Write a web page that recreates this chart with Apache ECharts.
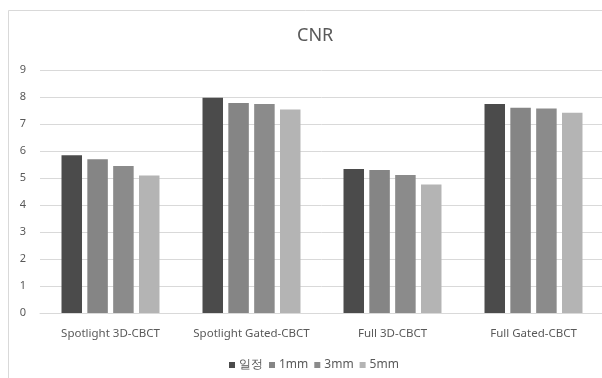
<!DOCTYPE html>
<html>
<head>
<meta charset="utf-8">
<script src="https://cdn.jsdelivr.net/npm/echarts@6/dist/echarts.min.js"></script>
<style>
  html, body { margin: 0; padding: 0; background: #ffffff; }
  #chart { width: 602px; height: 378px; }
</style>
</head>
<body>
<div id="chart"></div>
<script>
// CNR by acquisition mode and motion amplitude
const categories = ['Spotlight 3D-CBCT', 'Spotlight Gated-CBCT', 'Full 3D-CBCT', 'Full Gated-CBCT'];
const seriesNames = ['일정', '1mm', '3mm', '5mm'];
const staticValues = [5.84, 7.97, 5.33, 7.74];
const mm1Values = [5.69, 7.78, 5.30, 7.60];
const mm3Values = [5.44, 7.74, 5.11, 7.57];
const mm5Values = [5.09, 7.54, 4.76, 7.42];
const yTicks = [0, 9, 1]; // min, max, interval

const colors = ['#4b4b4b', '#858585', '#8b8b8b', '#b4b4b4'];
const valueSets = [staticValues, mm1Values, mm3Values, mm5Values];

const chart = echarts.init(document.getElementById('chart'), null, { renderer: 'canvas' });

const textColor = '#595959';
const font = 'Noto Sans';

chart.setOption({
  animation: false,
  backgroundColor: '#ffffff',
  color: colors,
  graphic: [{
    type: 'rect',
    shape: { x: 8.5, y: 10.5, width: 700, height: 500 },
    style: { fill: 'none', stroke: '#d9d9d9', lineWidth: 1 },
    silent: true
  }],
  title: {
    text: 'CNR',
    left: 292,
    top: 22,
    textStyle: { color: textColor, fontSize: 18, fontWeight: 'normal', fontFamily: font }
  },
  legend: {
    data: seriesNames,
    left: 229,
    top: 359,
    padding: 0,
    itemWidth: 6,
    itemHeight: 6,
    itemGap: 6,
    icon: 'rect',
    textStyle: { color: textColor, fontSize: 12, fontFamily: font, padding: [0, 0, 0, -1] }
  },
  grid: { left: 40, top: 70, height: 243, width: 564, containLabel: false, outerBoundsMode: 'none' },
  xAxis: {
    type: 'category',
    data: categories,
    axisLine: { show: true, lineStyle: { color: '#d9d9d9', width: 1 } },
    axisTick: { show: false },
    axisLabel: { color: textColor, fontSize: 11.5, fontFamily: font, margin: 15, interval: 0 }
  },
  yAxis: {
    type: 'value',
    min: yTicks[0],
    max: yTicks[1],
    interval: yTicks[2],
    axisLine: { show: false },
    axisTick: { show: false },
    splitLine: { lineStyle: { color: '#d9d9d9', width: 1 } },
    axisLabel: { color: textColor, fontSize: 11, fontFamily: font, margin: 14 }
  },
  series: seriesNames.map((name, i) => ({
    name: name,
    type: 'bar',
    data: valueSets[i],
    barWidth: 20.5,
    barGap: '26%',
    itemStyle: { color: colors[i] }
  }))
});
</script>
</body>
</html>
